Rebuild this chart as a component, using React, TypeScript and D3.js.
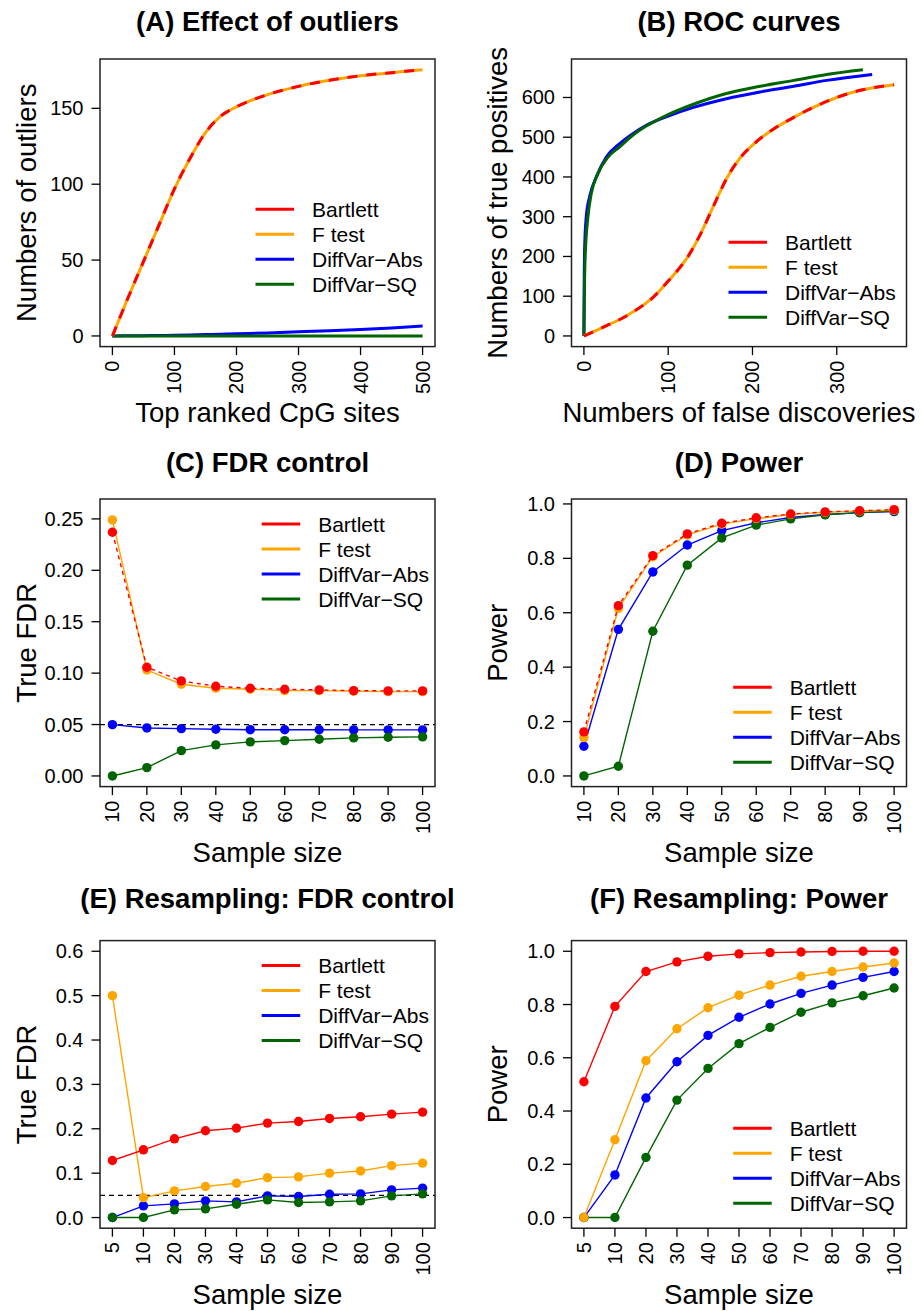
import * as d3 from "d3";

const FONT = "'Liberation Sans', Arial, Helvetica, sans-serif";
const RED = "#FF0000";
const ORANGE = "#FFA500";
const BLUE = "#0000FF";
const GREEN = "#006400";
const METHODS = ["Bartlett", "F test", "DiffVar\u2212Abs", "DiffVar\u2212SQ"];
const METHOD_COLORS = [RED, ORANGE, BLUE, GREEN];

// (A) Effect of outliers
const rankA = [0, 25, 50, 75, 100, 125, 150, 175, 200, 250, 300, 350, 400, 450, 500];
const outBartlett = [0, 25, 49, 73, 97, 117, 134, 145, 151, 159, 164.5, 168.5, 171.5, 173.5, 175.5];
const outFtest = [0, 25, 49, 73, 97, 117, 134, 145, 151, 159, 164.5, 168.5, 171.5, 173.5, 175.5];
const outAbs = [0, 0.1, 0.2, 0.3, 0.5, 0.7, 0.9, 1.1, 1.4, 2.0, 2.7, 3.4, 4.3, 5.3, 6.5];
const outSQ = [0, 0, 0, 0, 0, 0, 0, 0, 0, 0, 0, 0, 0, 0, 0];

// (B) ROC curves
const fdBartlett = [0, 15, 30, 45, 58, 70, 82, 100, 110, 122, 138, 154, 169, 185, 201, 221, 249, 269, 300, 328, 368];
const tpBartlett = [0, 14, 29, 44, 60, 77, 97, 138, 162, 195, 255, 328, 395, 447, 482, 515, 550, 572, 600, 618, 632];
const fdAbs = [0, 0.4, 1, 2.8, 6.7, 14.7, 26.6, 42.5, 58, 74, 100, 130, 169, 209, 249, 288, 342];
const tpAbs = [0, 150, 230, 300, 350, 400, 450, 484, 509, 530, 553, 575, 597, 614, 628, 643, 658];
const fdSQ = [0, 0.5, 1.5, 4.8, 8.7, 16.7, 28.6, 42.5, 58, 74, 100, 130, 169, 209, 249, 288, 331];
const tpSQ = [0, 100, 200, 300, 358, 409, 450, 476, 505, 528, 557, 583, 610, 628, 643, 658, 670];

// (C) FDR control and (D) Power
const sizeCD = [10, 20, 30, 40, 50, 60, 70, 80, 90, 100];
const fdrBartlett = [0.237, 0.1057, 0.0924, 0.0872, 0.0853, 0.0843, 0.0837, 0.083, 0.0827, 0.0827];
const fdrFtest = [0.249, 0.103, 0.0892, 0.0853, 0.0843, 0.083, 0.083, 0.0824, 0.082, 0.082];
const fdrAbs = [0.0499, 0.0467, 0.046, 0.0454, 0.045, 0.0449, 0.0449, 0.0448, 0.0448, 0.0448];
const fdrSQ = [0, 0.0081, 0.0246, 0.0302, 0.0331, 0.0344, 0.0357, 0.037, 0.0376, 0.038];
const powBartlett = [0.162, 0.626, 0.81, 0.89, 0.929, 0.949, 0.963, 0.971, 0.975, 0.979];
const powFtest = [0.141, 0.616, 0.806, 0.886, 0.926, 0.946, 0.961, 0.969, 0.974, 0.977];
const powAbs = [0.109, 0.539, 0.75, 0.849, 0.902, 0.931, 0.95, 0.961, 0.968, 0.972];
const powSQ = [0, 0.0355, 0.532, 0.775, 0.875, 0.922, 0.945, 0.96, 0.968, 0.974];

// (E) Resampling: FDR control and (F) Resampling: Power
const sizeEF = ["5", "10", "20", "30", "40", "50", "60", "70", "80", "90", "100"];
const rfdrBartlett = [0.1286, 0.1526, 0.1774, 0.1955, 0.2015, 0.2128, 0.2165, 0.2233, 0.227, 0.233, 0.2376];
const rfdrFtest = [0.5, 0.045, 0.06, 0.07, 0.0774, 0.09, 0.0917, 0.1, 0.105, 0.117, 0.1226];
const rfdrAbs = [0, 0.0263, 0.0308, 0.0376, 0.0353, 0.0489, 0.0474, 0.0526, 0.0534, 0.0624, 0.0662];
const rfdrSQ = [0, 0, 0.0173, 0.0195, 0.0301, 0.0398, 0.0338, 0.0353, 0.0376, 0.0489, 0.0534];
const rpowBartlett = [0.51, 0.793, 0.924, 0.96, 0.981, 0.99, 0.995, 0.997, 0.999, 1.0, 1.0];
const rpowFtest = [0, 0.292, 0.589, 0.709, 0.788, 0.835, 0.873, 0.906, 0.924, 0.941, 0.956];
const rpowAbs = [0, 0.16, 0.449, 0.585, 0.684, 0.752, 0.802, 0.842, 0.873, 0.902, 0.924];
const rpowSQ = [0, 0, 0.226, 0.441, 0.56, 0.653, 0.714, 0.771, 0.806, 0.833, 0.862];

const BOX_W = 335;
const BOX_H = 287.6;
const COL_LEFT = [100, 571.5];
const ROW_TOP = [59, 499, 940.6];
const TITLE_Y = [31, 472, 908];

// R-style 4% axis expansion
const pad = (lo, hi) => [lo - 0.04 * (hi - lo), hi + 0.04 * (hi - lo)];

type Series = {
  xs: any[];
  ys: number[];
  color: string;
  width: number;
  dash?: string;
  points?: boolean;
  smooth?: boolean;
};

type PanelProps = {
  col: number;
  row: number;
  title: string;
  xLabel: string;
  yLabel: string;
  x: any;
  y: any;
  xTicks: { v: any; label: string }[];
  yTicks: { v: number; label: string }[];
  series: Series[];
  refLine?: number;
  legendTop: number;
  legendLeft: number;
};

const Panel = ({ col, row, title, xLabel, yLabel, x, y, xTicks, yTicks, series, refLine, legendTop, legendLeft }: PanelProps) => {
  const left = COL_LEFT[col];
  const top = ROW_TOP[row];
  const right = left + BOX_W;
  const bottom = top + BOX_H;
  const cx = left + BOX_W / 2;

  return (
    <g>
      <text x={cx} y={TITLE_Y[row]} textAnchor="middle" fontSize={27.5} fontWeight="bold" fontFamily={FONT}>
        {title}
      </text>

      {refLine !== undefined && (
        <line x1={left} x2={right} y1={y(refLine)} y2={y(refLine)} stroke="#000" strokeWidth={1.3} strokeDasharray="5,4" />
      )}

      {series.map((s, i) => {
        const pts = s.xs.map((xv, j) => [x(xv), y(s.ys[j])]);
        const path = d3
          .line()
          .x((d) => d[0])
          .y((d) => d[1])
          .curve(s.smooth ? d3.curveMonotoneX : d3.curveLinear)(pts);
        return (
          <g key={i}>
            <path d={path} fill="none" stroke={s.color} strokeWidth={s.width} strokeDasharray={s.dash} />
            {s.points &&
              pts.map((p, j) => <circle key={j} cx={p[0]} cy={p[1]} r={4.7} fill={s.color} />)}
          </g>
        );
      })}

      <rect x={left} y={top} width={BOX_W} height={BOX_H} fill="none" stroke="#222" strokeWidth={1.5} />

      {/* y axis */}
      {yTicks.map((t, i) => (
        <g key={i}>
          <line x1={left - 8.5} x2={left} y1={y(t.v)} y2={y(t.v)} stroke="#000" strokeWidth={1.3} />
          <text x={left - 16.5} y={y(t.v)} textAnchor="end" dominantBaseline="central" fontSize={20} fontFamily={FONT}>
            {t.label}
          </text>
        </g>
      ))}

      {/* x axis */}
      {xTicks.map((t, i) => (
        <g key={i}>
          <line x1={x(t.v)} x2={x(t.v)} y1={bottom} y2={bottom + 8.5} stroke="#000" strokeWidth={1.3} />
          <text
            transform={`translate(${x(t.v)},${bottom + 14}) rotate(-90)`}
            textAnchor="end"
            dominantBaseline="central"
            fontSize={20}
            fontFamily={FONT}
          >
            {t.label}
          </text>
        </g>
      ))}

      <text x={cx} y={bottom + 75.5} textAnchor="middle" fontSize={27.5} fontFamily={FONT}>
        {xLabel}
      </text>
      <text
        transform={`translate(${left - 64.5},${top + BOX_H / 2}) rotate(-90)`}
        textAnchor="middle"
        fontSize={27.5}
        fontFamily={FONT}
      >
        {yLabel}
      </text>

      {/* legend */}
      {METHODS.map((m, i) => {
        const ly = top + legendTop + i * 25;
        return (
          <g key={m}>
            <line x1={left + legendLeft} x2={left + legendLeft + 38.5} y1={ly} y2={ly} stroke={METHOD_COLORS[i]} strokeWidth={3} />
            <text x={left + legendLeft + 56.5} y={ly} dominantBaseline="central" fontSize={21} fontFamily={FONT}>
              {m}
            </text>
          </g>
        );
      })}
    </g>
  );
};

const xRange = (col) => [COL_LEFT[col], COL_LEFT[col] + BOX_W];
const yRange = (row) => [ROW_TOP[row] + BOX_H, ROW_TOP[row]];

// curves (A, B): thick smooth lines, Bartlett dashed over F test
const curveSeries = (xs, b, f, a, s) => [
  { xs: xs[2], ys: a, color: BLUE, width: 3, smooth: true },
  { xs: xs[3], ys: s, color: GREEN, width: 3, smooth: true },
  { xs: xs[1], ys: f, color: ORANGE, width: 3, smooth: true },
  { xs: xs[0], ys: b, color: RED, width: 3, dash: "10,9", smooth: true },
];

// point-and-line panels (C-F)
const pointSeries = (xs, b, f, a, s, redDash) => [
  { xs, ys: a, color: BLUE, width: 1.4, points: true },
  { xs, ys: s, color: GREEN, width: 1.4, points: true },
  { xs, ys: f, color: ORANGE, width: 1.4, points: true },
  { xs, ys: b, color: RED, width: 1.4, dash: redDash ? "4,4" : undefined, points: true },
];

export default function App() {
  const fmt2 = d3.format(".2f");
  const fmt1 = d3.format(".1f");

  const xA = d3.scaleLinear().domain(pad(0, 500)).range(xRange(0));
  const yA = d3.scaleLinear().domain(pad(0, d3.max(outBartlett))).range(yRange(0));
  const xB = d3.scaleLinear().domain(pad(0, d3.max(fdBartlett))).range(xRange(1));
  const yB = d3.scaleLinear().domain(pad(0, d3.max(tpSQ))).range(yRange(0));
  const xC = d3.scaleLinear().domain(pad(10, 100)).range(xRange(0));
  const yC = d3.scaleLinear().domain(pad(0, 0.259)).range(yRange(1));
  const xD = d3.scaleLinear().domain(pad(10, 100)).range(xRange(1));
  const yD = d3.scaleLinear().domain(pad(0, d3.max(powBartlett))).range(yRange(1));
  const xE = d3.scalePoint().domain(sizeEF).range(xRange(0)).padding(0.4);
  const yE = d3.scaleLinear().domain(pad(0, 0.6)).range(yRange(2));
  const xF = d3.scalePoint().domain(sizeEF).range(xRange(1)).padding(0.4);
  const yF = d3.scaleLinear().domain(pad(0, 1)).range(yRange(2));

  const ticksOf = (vals, f) => vals.map((v) => ({ v, label: f(v) }));
  const sizeTicks = sizeCD.map((v) => ({ v, label: String(v) }));
  const catTicks = sizeEF.map((v) => ({ v, label: v }));

  return (
    <svg
      width={921}
      height={1311}
      style={{ position: "absolute", left: 0, top: 0, background: "#fff" }}
      fontFamily={FONT}
    >
      <rect width={921} height={1311} fill="#fff" />
      <Panel
        col={0}
        row={0}
        title="(A) Effect of outliers"
        xLabel="Top ranked CpG sites"
        yLabel="Numbers of outliers"
        x={xA}
        y={yA}
        xTicks={ticksOf([0, 100, 200, 300, 400, 500], String)}
        yTicks={ticksOf([0, 50, 100, 150], String)}
        series={curveSeries([rankA, rankA, rankA, rankA], outBartlett, outFtest, outAbs, outSQ)}
        legendTop={150.3}
        legendLeft={155.5}
      />
      <Panel
        col={1}
        row={0}
        title="(B) ROC curves"
        xLabel="Numbers of false discoveries"
        yLabel="Numbers of true positives"
        x={xB}
        y={yB}
        xTicks={ticksOf([0, 100, 200, 300], String)}
        yTicks={ticksOf([0, 100, 200, 300, 400, 500, 600], String)}
        series={curveSeries([fdBartlett, fdBartlett, fdAbs, fdSQ], tpBartlett, tpBartlett, tpAbs, tpSQ)}
        legendTop={183.3}
        legendLeft={157}
      />
      <Panel
        col={0}
        row={1}
        title="(C) FDR control"
        xLabel="Sample size"
        yLabel="True FDR"
        x={xC}
        y={yC}
        xTicks={sizeTicks}
        yTicks={ticksOf([0, 0.05, 0.1, 0.15, 0.2, 0.25], fmt2)}
        series={pointSeries(sizeCD, fdrBartlett, fdrFtest, fdrAbs, fdrSQ, true)}
        refLine={0.05}
        legendTop={25}
        legendLeft={161.7}
      />
      <Panel
        col={1}
        row={1}
        title="(D) Power"
        xLabel="Sample size"
        yLabel="Power"
        x={xD}
        y={yD}
        xTicks={sizeTicks}
        yTicks={ticksOf([0, 0.2, 0.4, 0.6, 0.8, 1.0], fmt1)}
        series={pointSeries(sizeCD, powBartlett, powFtest, powAbs, powSQ, true)}
        legendTop={188.3}
        legendLeft={161.7}
      />
      <Panel
        col={0}
        row={2}
        title="(E) Resampling: FDR control"
        xLabel="Sample size"
        yLabel="True FDR"
        x={xE}
        y={yE}
        xTicks={catTicks}
        yTicks={ticksOf([0, 0.1, 0.2, 0.3, 0.4, 0.5, 0.6], fmt1)}
        series={pointSeries(sizeEF, rfdrBartlett, rfdrFtest, rfdrAbs, rfdrSQ, false)}
        refLine={0.05}
        legendTop={25}
        legendLeft={161.7}
      />
      <Panel
        col={1}
        row={2}
        title="(F) Resampling: Power"
        xLabel="Sample size"
        yLabel="Power"
        x={xF}
        y={yF}
        xTicks={catTicks}
        yTicks={ticksOf([0, 0.2, 0.4, 0.6, 0.8, 1.0], fmt1)}
        series={pointSeries(sizeEF, rpowBartlett, rpowFtest, rpowAbs, rpowSQ, false)}
        legendTop={187.6}
        legendLeft={161.7}
      />
    </svg>
  );
}
